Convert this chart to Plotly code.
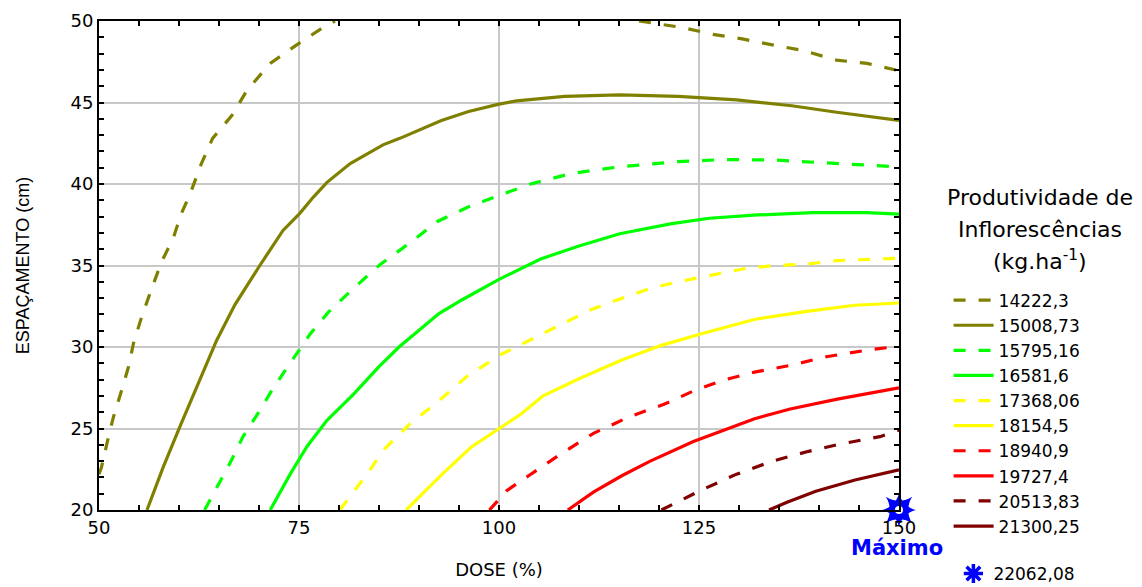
import plotly.graph_objects as go

# ---------------- data ----------------
levels = ["14222,3", "15008,73", "15795,16", "16581,6", "17368,06",
          "18154,5", "18940,9", "19727,4", "20513,83", "21300,25"]
colors = ["#808000", "#808000", "#00ff00", "#00ff00", "#ffff00",
          "#ffff00", "#ff0000", "#ff0000", "#800000", "#800000"]
dashed = [True, False, True, False, True, False, True, False, True, False]

dose_1 = [50.0, 50.3, 51.0, 51.8, 52.8, 53.7, 54.3, 55.3, 56.6, 57.8, 59.3, 60.3, 61.4,
          62.8, 64.2, 66.6, 68.5, 71.4, 74.9, 78.0, 79.5,
          None,
          117.5, 122.9, 126.5, 130.4, 134.0, 137.9, 142.2, 146.0, 150.0]
esp_1 = [22.2, 22.6, 24.1, 25.7, 27.3, 28.8, 30.2, 31.8, 33.6, 35.2, 36.7, 38.2, 39.4,
         41.25, 42.8, 44.2, 45.75, 47.4, 48.6, 49.6, 50.0,
         None,
         50.0, 49.6, 49.2, 48.9, 48.55, 48.2, 47.6, 47.4, 46.95]

dose_2 = [56.0, 58.0, 60.1, 62.6, 64.7, 67.0, 70.1, 73.0, 75.1, 76.8, 78.5, 81.4,
          85.5, 87.6, 92.8, 96.2, 100.0, 102.2, 108.2, 115.1, 122.4, 129.7, 136.6, 142.2, 150.0]
esp_2 = [20.0, 22.6, 25.1, 27.96, 30.4, 32.6, 35.0, 37.15, 38.2, 39.2, 40.1, 41.25,
         42.4, 42.8, 43.9, 44.45, 44.9, 45.1, 45.37, 45.47, 45.37, 45.16, 44.8, 44.4, 43.9]

dose_3 = [63.2, 66.4, 68.0, 70.1, 71.8, 73.9, 76.4, 78.7, 81.6, 85.1, 88.9, 92.3, 96.2,
          100.0, 103.95, 109.1, 115.1, 122.4, 128.0, 134.4, 140.9, 146.0, 150.0]
esp_3 = [20.0, 22.9, 24.5, 26.1, 27.5, 29.0, 30.8, 32.15, 33.5, 35.05, 36.4, 37.7, 38.6,
         39.3, 40.0, 40.65, 41.06, 41.37, 41.5, 41.47, 41.3, 41.2, 41.05]

dose_4 = [71.4, 73.9, 76.0, 78.5, 81.8, 85.0, 87.5, 92.5, 95.4, 100.0, 105.2, 110.0,
          115.1, 121.6, 126.3, 132.3, 139.2, 146.0, 150.0]
esp_4 = [20.0, 22.2, 23.9, 25.5, 27.1, 28.8, 30.0, 32.05, 32.9, 34.15, 35.4, 36.2,
         36.95, 37.57, 37.9, 38.1, 38.24, 38.24, 38.15]

dose_5 = [80.1, 83.5, 85.7, 88.9, 92.5, 96.0, 100.1, 103.7, 107.7, 111.3, 115.2, 118.9,
          122.4, 126.3, 130.6, 134.4, 138.7, 142.2, 146.0, 150.0]
esp_5 = [20.0, 22.2, 23.75, 25.3, 26.7, 28.2, 29.5, 30.4, 31.4, 32.25, 32.96, 33.6,
         34.0, 34.4, 34.8, 35.0, 35.1, 35.3, 35.37, 35.45]

dose_6 = [88.4, 92.9, 96.5, 100.0, 102.8, 105.5, 110.0, 115.35, 120.3, 125.2, 132.0,
          138.7, 144.5, 150.0]
esp_6 = [20.0, 22.2, 23.85, 25.0, 25.9, 27.0, 28.05, 29.2, 30.1, 30.8, 31.7,
         32.2, 32.56, 32.7]

dose_7 = [98.8, 101.0, 103.7, 107.3, 111.8, 116.2, 120.7, 124.3, 127.9, 131.95, 136.4,
          140.9, 145.9, 150.0]
esp_7 = [20.0, 21.2, 22.1, 23.3, 24.7, 25.7, 26.5, 27.3, 27.95, 28.46, 28.87,
         29.4, 29.8, 30.05]

dose_8 = [108.6, 111.8, 115.35, 118.9, 124.3, 127.5, 131.95, 136.4, 142.3, 150.0]
esp_8 = [20.0, 21.1, 22.1, 23.0, 24.2, 24.8, 25.6, 26.2, 26.8, 27.5]

dose_9 = [120.3, 122.3, 125.2, 129.7, 134.2, 138.7, 142.7, 147.6, 150.0]
esp_9 = [20.0, 20.5, 21.2, 22.2, 23.0, 23.6, 24.05, 24.5, 24.9]

dose_10 = [133.75, 136.0, 139.6, 144.5, 150.0]
esp_10 = [20.0, 20.47, 21.15, 21.84, 22.46]

max_dose = [150.0]
max_esp = [20.0]
max_label = "22062,08"

x_ticks = [50, 75, 100, 125, 150]
y_ticks = [20, 25, 30, 35, 40, 45, 50]

all_dose = [dose_1, dose_2, dose_3, dose_4, dose_5, dose_6, dose_7, dose_8, dose_9, dose_10]
all_esp = [esp_1, esp_2, esp_3, esp_4, esp_5, esp_6, esp_7, esp_8, esp_9, esp_10]

# ---------------- figure ----------------
FONT = "DejaVu Sans"
fig = go.Figure()

for name, col, dsh, xs, ys in zip(levels, colors, dashed, all_dose, all_esp):
    fig.add_trace(go.Scatter(
        x=xs, y=ys, mode="lines", name=name,
        line=dict(color=col, width=3.2, dash="12px,13px" if dsh else "solid",
                  shape="linear"),
        connectgaps=False, legend="legend",
    ))

# maximum marker (8-point sun: two 4-point stars + white centre)
for sym, sz, colr in [("star-square", 24, "#0000ff"), ("star-diamond", 24, "#0000ff"),
                      ("circle", 8, "#ffffff")]:
    fig.add_trace(go.Scatter(
        x=max_dose, y=max_esp, mode="markers", showlegend=False, cliponaxis=False,
        marker=dict(symbol=sym, size=sz, color=colr, line=dict(width=0)),
        hoverinfo="skip",
    ))

# legend entry for the maximum
fig.add_trace(go.Scatter(
    x=[None], y=[None], mode="markers", name=max_label, legend="legend2",
    marker=dict(symbol="asterisk-open", size=16, color="#0000ff",
                line=dict(color="#0000ff", width=3.5)),
))

axis_common = dict(
    showline=True, linecolor="black", linewidth=2, mirror="ticks",
    ticks="inside", ticklen=5, tickwidth=1.5, tickcolor="black",
    showgrid=True, gridcolor="#c8c8c8", gridwidth=1.5,
    zeroline=False, tickfont=dict(family=FONT, size=18, color="black"),
)

fig.update_xaxes(
    range=[50, 150], tickvals=x_ticks, ticktext=[str(v) for v in x_ticks],
    minor=dict(dtick=5, tick0=50, ticks="inside", ticklen=5, tickcolor="black",
               tickwidth=1.5, showgrid=False),
    title=dict(text="DOSE (%)", font=dict(family=FONT, size=18, color="black"), standoff=27),
    **axis_common,
)
fig.update_yaxes(
    range=[20, 50], tickvals=y_ticks, ticktext=[str(v) for v in y_ticks],
    minor=dict(dtick=1, tick0=20, ticks="inside", ticklen=5, tickcolor="black",
               tickwidth=1.5, showgrid=False),
    title=dict(text="ESPAÇAMENTO (cm)", font=dict(family="Liberation Sans", size=18, color="black"),
               standoff=36),
    **axis_common,
)

anns = []
for txt, yy in [("Produtividade de", 0.6395), ("Inflorescências", 0.574),
                ("(kg.ha<sup>-1</sup>)", 0.511)]:
    anns.append(dict(text=txt, x=1.176, y=yy, xref="paper", yref="paper",
                     xanchor="center", yanchor="middle", showarrow=False,
                     font=dict(family=FONT, size=22, color="black")))
anns.append(dict(text="<b>Máximo</b>", x=0.998, y=-0.077, xref="paper", yref="paper",
                 xanchor="center", yanchor="middle", showarrow=False,
                 font=dict(family=FONT, size=21, color="#0000ff")))

# the page body adds an 8px offset; margins compensate so the plot area sits
# at x 99..899, y 21..510 in the screenshot
fig.update_layout(
    width=1142, height=587,
    margin=dict(l=91, r=251, t=13, b=85, autoexpand=False),
    paper_bgcolor="white", plot_bgcolor="white",
    annotations=anns,
    legend=dict(x=1.062, y=0.465, xanchor="left", yanchor="top",
                font=dict(family=FONT, size=17, color="black"),
                bgcolor="rgba(0,0,0,0)", tracegroupgap=0, itemwidth=40),
    legend2=dict(x=1.068, y=-0.094, xanchor="left", yanchor="top",
                 font=dict(family=FONT, size=17, color="black"),
                 bgcolor="rgba(0,0,0,0)"),
    showlegend=True,
)

fig.write_html("out.html")
